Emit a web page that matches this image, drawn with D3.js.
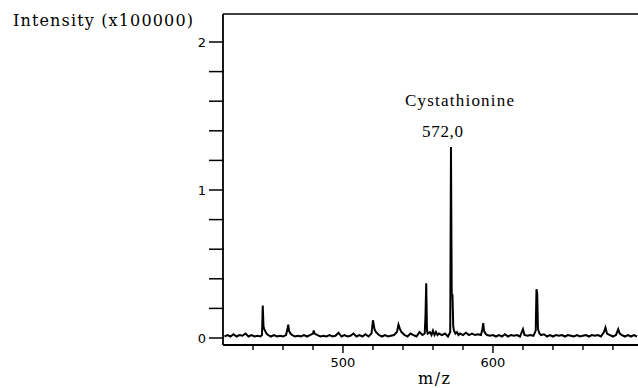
<!DOCTYPE html>
<html>
<head>
<meta charset="utf-8">
<script src="https://cdn.jsdelivr.net/npm/d3@7"></script>
<style>
  html, body { margin: 0; padding: 0; background: #fff; }
  svg { display: block; }
</style>
</head>
<body>
<div id="chart"></div>
<script>
// spectrum points: [m/z, intensity (x100000)]
const spectrum = [
  [421, 0.01], [423, 0.02], [425, 0.01], [427, 0.025], [429, 0.01], [431, 0.02], [433, 0.015],
  [435, 0.03], [437, 0.01], [439, 0.02], [441, 0.01], [443, 0.015], [445, 0.01], [446, 0.02],
  [446.5, 0.22], [447, 0.08], [447.5, 0.06], [448, 0.05], [449, 0.03], [450, 0.02], [452, 0.01],
  [454, 0.02], [456, 0.01], [458, 0.015], [460, 0.01], [462, 0.02], [463, 0.06], [463.5, 0.09],
  [464, 0.05], [465, 0.03], [466, 0.02], [468, 0.01], [470, 0.015], [472, 0.01], [474, 0.02],
  [476, 0.01], [478, 0.02], [480, 0.03], [480.5, 0.05], [481, 0.03], [483, 0.02], [485, 0.01],
  [487, 0.015], [489, 0.01], [491, 0.02], [493, 0.01], [495, 0.015], [497, 0.035], [499, 0.01],
  [501, 0.02], [503, 0.01], [505, 0.015], [507, 0.03], [509, 0.01], [511, 0.02], [513, 0.01],
  [515, 0.025], [517, 0.01], [519, 0.03], [520, 0.12], [520.5, 0.09], [521, 0.06], [522, 0.04],
  [523, 0.03], [524, 0.02], [526, 0.01], [528, 0.02], [530, 0.01], [532, 0.015], [534, 0.02],
  [536, 0.04], [537, 0.09], [538, 0.06], [539, 0.04], [540, 0.03], [541, 0.02], [543, 0.01],
  [545, 0.03], [547, 0.02], [549, 0.01], [551, 0.04], [553, 0.02], [554.5, 0.03], [555, 0.15],
  [555.5, 0.37], [556, 0.05], [556.5, 0.03], [558, 0.04], [559, 0.02], [560, 0.05], [561, 0.02],
  [562, 0.04], [563, 0.02], [564, 0.03], [566, 0.02], [568, 0.03], [570, 0.01], [571.5, 0.04],
  [572, 1.29], [572.5, 0.3], [573, 0.29], [573.5, 0.08], [574, 0.05], [575, 0.03], [576, 0.04],
  [577, 0.02], [578, 0.03], [580, 0.02], [582, 0.035], [584, 0.02], [586, 0.03], [588, 0.02],
  [590, 0.025], [592, 0.02], [593, 0.06], [593.5, 0.1], [594, 0.05], [595, 0.03], [596, 0.02],
  [598, 0.015], [600, 0.02], [602, 0.01], [604, 0.02], [606, 0.01], [608, 0.025], [610, 0.01],
  [612, 0.02], [614, 0.015], [616, 0.02], [618, 0.01], [620, 0.06], [621, 0.02], [623, 0.015],
  [625, 0.02], [627, 0.015], [628.5, 0.05], [629, 0.33], [629.5, 0.3], [630, 0.06], [631, 0.03],
  [632, 0.02], [634, 0.025], [636, 0.01], [638, 0.02], [640, 0.01], [642, 0.02], [644, 0.015],
  [646, 0.02], [648, 0.01], [650, 0.02], [652, 0.015], [654, 0.01], [656, 0.02], [658, 0.01],
  [660, 0.015], [662, 0.02], [664, 0.01], [666, 0.02], [668, 0.015], [670, 0.02], [672, 0.01],
  [674, 0.04], [675, 0.07], [676, 0.03], [678, 0.02], [680, 0.01], [682, 0.02], [683.5, 0.06],
  [684.5, 0.03], [686, 0.02], [688, 0.01], [690, 0.02], [692, 0.01], [694, 0.02], [696, 0.01]
];

const xMajorTicks = [500, 600];
const xMinorTicks = [440, 460, 480, 520, 540, 560, 580, 620, 640, 660, 680];
const yMajorTicks = [0, 1, 2];
const yMinorTicks = [0.2, 0.4, 0.6, 0.8, 1.2, 1.4, 1.6, 1.8];

const yTitle = 'Intensity (x100000)';
const xTitle = 'm/z';
const peakName = 'Cystathionine';
const peakLabel = '572,0';

const W = 638, H = 388;

const svg = d3.select('#chart')
  .append('svg')
  .attr('width', W)
  .attr('height', H);

// scales: x from axis line to right edge, y 0 at 338, 2 at 42
const x = d3.scaleLinear().domain([420, 696.7]).range([223, 638]);
const y = d3.scaleLinear().domain([0, 2]).range([338, 42]);

const axisBottomY = 345;
const axisTopY = 14;

// frame: left axis line, top line, bottom axis line
svg.append('line')
  .attr('x1', 223).attr('x2', 223)
  .attr('y1', axisTopY).attr('y2', axisBottomY)
  .attr('stroke', '#000').attr('stroke-width', 1.8);
svg.append('line')
  .attr('x1', 223).attr('x2', W)
  .attr('y1', axisTopY).attr('y2', axisTopY)
  .attr('stroke', '#000').attr('stroke-width', 1.5);
svg.append('line')
  .attr('x1', 223).attr('x2', W)
  .attr('y1', axisBottomY).attr('y2', axisBottomY)
  .attr('stroke', '#000').attr('stroke-width', 1.8);

// y ticks
svg.append('g')
  .selectAll('line')
  .data(yMajorTicks.concat(yMinorTicks))
  .join('line')
  .attr('x1', 209).attr('x2', 224)
  .attr('y1', d => y(d)).attr('y2', d => y(d))
  .attr('stroke', '#000').attr('stroke-width', 1.5);

svg.append('g')
  .selectAll('text')
  .data(yMajorTicks)
  .join('text')
  .attr('x', 206)
  .attr('y', d => y(d))
  .attr('dy', '0.36em')
  .attr('text-anchor', 'end')
  .attr('font-family', 'DejaVu Sans, sans-serif')
  .attr('font-size', 13)
  .text(d => d);

// x ticks
svg.append('g')
  .selectAll('line')
  .data(xMinorTicks)
  .join('line')
  .attr('x1', d => x(d)).attr('x2', d => x(d))
  .attr('y1', axisBottomY).attr('y2', axisBottomY + 5)
  .attr('stroke', '#000').attr('stroke-width', 1.4);

svg.append('g')
  .selectAll('line')
  .data(xMajorTicks)
  .join('line')
  .attr('x1', d => x(d)).attr('x2', d => x(d))
  .attr('y1', axisBottomY).attr('y2', axisBottomY + 8)
  .attr('stroke', '#000').attr('stroke-width', 1.4);

svg.append('g')
  .selectAll('text')
  .data(xMajorTicks)
  .join('text')
  .attr('x', d => x(d))
  .attr('y', 367)
  .attr('text-anchor', 'middle')
  .attr('font-family', 'DejaVu Sans, sans-serif')
  .attr('font-size', 13)
  .text(d => d);

// spectrum trace
const line = d3.line()
  .x(d => x(d[0]))
  .y(d => y(d[1]));

svg.append('path')
  .datum(spectrum)
  .attr('fill', 'none')
  .attr('stroke', '#000')
  .attr('stroke-width', 2)
  .attr('stroke-linejoin', 'miter')
  .attr('d', line);

// titles
svg.append('text')
  .attr('x', 13).attr('y', 26)
  .attr('font-family', 'DejaVu Serif, serif')
  .attr('font-size', 16)
  .attr('textLength', 180)
  .attr('lengthAdjust', 'spacing')
  .text(yTitle);

svg.append('text')
  .attr('x', 418).attr('y', 384)
  .attr('font-family', 'DejaVu Serif, serif')
  .attr('font-size', 16)
  .attr('textLength', 32)
  .attr('lengthAdjust', 'spacing')
  .text(xTitle);

svg.append('text')
  .attr('x', 405).attr('y', 106)
  .attr('font-family', 'Liberation Serif, serif')
  .attr('font-size', 17)
  .attr('textLength', 109)
  .attr('lengthAdjust', 'spacing')
  .text(peakName);

svg.append('text')
  .attr('x', 422).attr('y', 137)
  .attr('font-family', 'Liberation Serif, serif')
  .attr('font-size', 17)
  .attr('textLength', 41)
  .attr('lengthAdjust', 'spacing')
  .text(peakLabel);
</script>
</body>
</html>
